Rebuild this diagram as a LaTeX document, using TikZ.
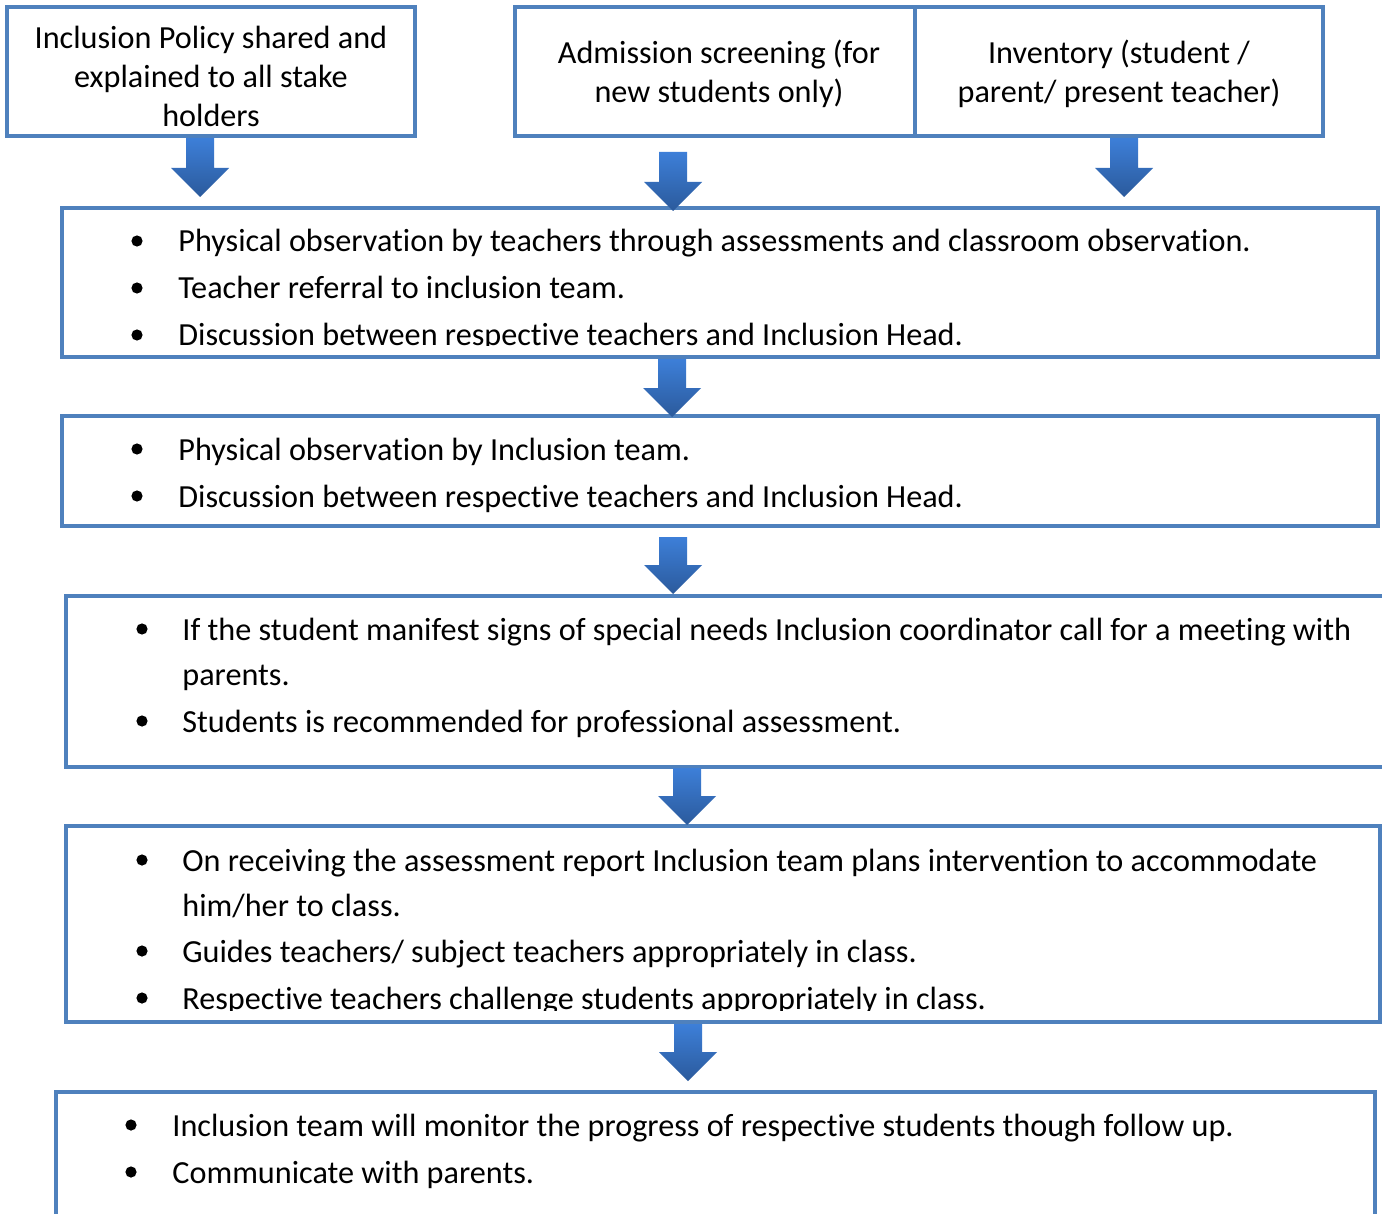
\documentclass[tikz,border=0pt]{standalone}
\usepackage{fontspec}
\setmainfont{Carlito}[Ligatures={NoCommon,NoContextual,NoRare},Contextuals=NoAlternate]
\definecolor{boxblue}{HTML}{4F81BD}
\definecolor{arrowtop}{HTML}{3D7FD8}
\definecolor{arrowbot}{HTML}{2B5A9C}
\tikzset{
  frame/.style={draw=boxblue, line width=2pt},
  listline/.style={anchor=base west, inner sep=0pt, font=\fontsize{16.1}{19}\selectfont},
  headline/.style={anchor=base, inner sep=0pt, font=\fontsize{16.1}{19}\selectfont},
  flow/.style={top color=arrowtop, bottom color=arrowbot, draw=none}
}
% block arrow: centre x, top, tip
\newcommand\blockarrow[3]{%
  \shade[flow] (#1-14,#2) -- (#1+14,#2) -- (#1+14,#3-29) -- (#1+29,#3-29)
    -- (#1,#3) -- (#1-29,#3-29) -- (#1-14,#3-29) -- cycle;}

\begin{document}
\begin{tikzpicture}[x=0.5pt,y=-0.5pt]
\useasboundingbox (0,0) rectangle (1382,1214);
\fill[white] (0,0) rectangle (1382,1214);

% boxes
\draw[frame] (7,7) rectangle (415,136);
\draw[frame] (515,7) rectangle (915,136);
\draw[frame] (915,7) rectangle (1323,136);
\draw[frame] (62,208) rectangle (1378,357);
\draw[frame] (62,416) rectangle (1378,526);
\draw[frame] (66,596) rectangle (1420,767);
\draw[frame] (66,826) rectangle (1380,1022);
\draw[frame] (56,1092) rectangle (1375,1260);

% top row
\node[headline] (pol1) at (211,49) {Inclusion Policy shared and};
\node[headline] (pol2) at (211,88) {explained to all stake};
\node[headline] (pol3) at (211,127) {holders};
\node[headline] (adm1) at (719,64) {Admission screening (for};
\node[headline] (adm2) at (719,103) {new students only)};
\node[headline] (inv1) at (1119,64) {Inventory (student /};
\node[headline] (inv2) at (1119,103) {parent/ present teacher)};

% step 1
\begin{scope}
\clip (62,208) rectangle (1378,346);
\foreach \y/\t [count=\n] in {
  252/{Physical observation by teachers through assessments and classroom observation.},
  299/{Teacher referral to inclusion team.},
  346/{Discussion between respective teachers and Inclusion Head.}}
{\fill (137,\y-11) circle[radius=2.8pt];
 \node[listline] (obs\n) at (178,\y) {\t};}
\end{scope}

% step 2
\foreach \y/\t [count=\n] in {
  460/{Physical observation by Inclusion team.},
  507/{Discussion between respective teachers and Inclusion Head.}}
{\fill (137,\y-11) circle[radius=2.8pt];
 \node[listline] (team\n) at (178,\y) {\t};}

% step 3
\foreach \y/\b/\t [count=\n] in {
  640/1/{If the student manifest signs of special needs Inclusion coordinator call for a meeting with},
  685/0/{parents.},
  732/1/{Students is recommended for professional assessment.}}
{\ifnum\b=1 \fill (142,\y-11) circle[radius=2.8pt];\fi
 \node[listline] (meet\n) at (182,\y) {\t};}

% step 4
\begin{scope}
\clip (66,826) rectangle (1380,1010);
\foreach \y/\b/\t [count=\n] in {
  871/1/{On receiving the assessment report Inclusion team plans intervention to accommodate},
  916/0/{him/her to class.},
  962/1/{Guides teachers/ subject teachers appropriately in class.},
  1009/1/{Respective teachers challenge students appropriately in class.}}
{\ifnum\b=1 \fill (142,\y-11) circle[radius=2.8pt];\fi
 \node[listline] (plan\n) at (182,\y) {\t};}
\end{scope}

% step 5
\foreach \y/\t [count=\n] in {
  1136/{Inclusion team will monitor the progress of respective students though follow up.},
  1183/{Communicate with parents.}}
{\fill (131,\y-11) circle[radius=2.8pt];
 \node[listline] (mon\n) at (172,\y) {\t};}

% arrows
\blockarrow{200}{138}{197}
\blockarrow{673}{152}{211}
\blockarrow{1124}{138}{197}
\blockarrow{672}{359}{417}
\blockarrow{673}{537}{594}
\blockarrow{687}{768}{825}
\blockarrow{688}{1024}{1081}
\end{tikzpicture}
\end{document}
